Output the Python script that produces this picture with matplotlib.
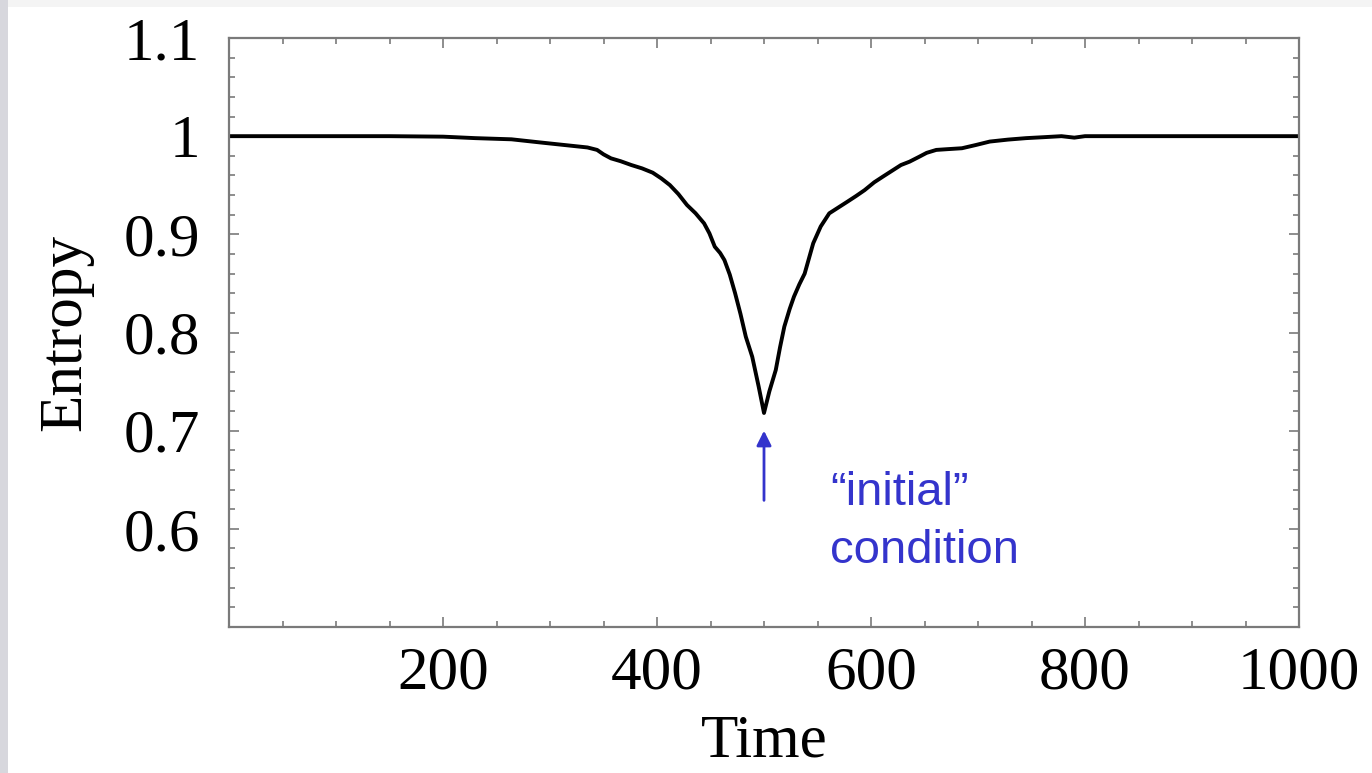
import numpy as np
import matplotlib.pyplot as plt
from matplotlib.patches import Rectangle
from matplotlib.ticker import MultipleLocator, FixedLocator, FuncFormatter

# ==========================
# DATOS
# ==========================
tiempo = [0, 50, 100, 150, 200, 230, 264, 290, 322, 335, 344, 350, 357,
          366, 376, 386, 396, 404, 412, 420, 428, 436, 444, 449, 454, 459,
          463, 468, 473, 478, 483, 489, 495, 500, 505, 511, 515, 519, 524,
          528, 533, 538, 546, 553, 561, 569, 578, 586, 594, 603, 611, 620,
          628, 636, 645, 652, 661, 672, 685, 698, 711, 728, 745, 762, 778,
          790, 800, 850, 900, 950, 1000]
entropia = [1.0, 1.0, 1.0, 1.0, 0.9995, 0.998, 0.9968, 0.9937, 0.990,
            0.9885, 0.986, 0.9815, 0.9774, 0.9745, 0.9706, 0.9672, 0.9628,
            0.9570, 0.9502, 0.9410, 0.9299, 0.9215, 0.9112, 0.9010, 0.8874,
            0.8810, 0.8738, 0.8590, 0.840, 0.8190, 0.7957, 0.7753, 0.745,
            0.718, 0.740, 0.7618, 0.7850, 0.806, 0.8240, 0.8365, 0.8490,
            0.860, 0.8909, 0.9080, 0.9214, 0.9270, 0.9333, 0.9390, 0.945,
            0.9530, 0.9587, 0.9650, 0.9706, 0.9740, 0.979, 0.9830, 0.986,
            0.9868, 0.9877, 0.9910, 0.9945, 0.9965, 0.998, 0.9990, 1.0,
            0.9985, 1.0, 1.0, 1.0, 1.0, 1.0]

xticks_may = [200, 400, 600, 800, 1000]
yticks_may = [0.6, 0.7, 0.8, 0.9, 1.0, 1.1]

flecha_x = 500
flecha_punta = 0.700
flecha_cola = 0.629
texto_nota = "\u201cinitial\u201d\ncondition"

AZUL = "#3434cc"
GRIS = "#7a7a7a"

# ==========================
# FIGURA
# ==========================
plt.rcParams['font.family'] = ['Liberation Serif', 'DejaVu Serif']

fig = plt.figure(figsize=(13.72, 7.73), dpi=100)
fig.patch.set_facecolor("white")

# bordes grises de la diapositiva
fig.patches.append(Rectangle((0, 0), 1, 1, transform=fig.transFigure,
                             facecolor="#f4f4f4", edgecolor="none", zorder=-3))
fig.patches.append(Rectangle((8/1372, 0), 1, 1 - 7/773, transform=fig.transFigure,
                             facecolor="white", edgecolor="none", zorder=-2))
fig.patches.append(Rectangle((0, 0), 8/1372, 1, transform=fig.transFigure,
                             facecolor="#d7d7dd", edgecolor="none", zorder=-1))

ax = fig.add_axes([229/1372, 1 - 627/773, 1070/1372, 589/773])

ax.plot(tiempo, entropia, color="black", lw=2.8, solid_joinstyle="round")

ax.set_xlim(0, 1000)
ax.set_ylim(0.5, 1.1)

ax.xaxis.set_major_locator(FixedLocator(xticks_may))
ax.xaxis.set_minor_locator(MultipleLocator(50))
ax.yaxis.set_major_locator(FixedLocator(yticks_may))
ax.yaxis.set_minor_locator(MultipleLocator(0.02))
ax.yaxis.set_major_formatter(FuncFormatter(lambda v, p: f"{v:g}"))

ax.tick_params(which="both", direction="in", top=True, right=True,
               color=GRIS, width=1.2, labelsize=44)
ax.tick_params(which="major", length=7)
ax.tick_params(which="minor", length=4)
ax.tick_params(axis="y", pad=21)
ax.tick_params(axis="x", pad=14)

for s in ax.spines.values():
    s.set_color(GRIS)
    s.set_linewidth(1.6)

ax.set_xlabel("Time", fontsize=44, labelpad=9)
ax.set_ylabel("Entropy", fontsize=44, labelpad=22)

# flecha + nota
ax.annotate("", xy=(flecha_x, flecha_punta), xytext=(flecha_x, flecha_cola),
            arrowprops=dict(arrowstyle="-|>", color=AZUL, lw=2,
                            mutation_scale=22, shrinkA=0, shrinkB=0))
ax.text(562, 0.659, texto_nota, color=AZUL, fontsize=34,
        family=["Liberation Sans", "DejaVu Sans"], va="top", ha="left",
        linespacing=1.4)

fig.savefig("out.png", dpi=100)
